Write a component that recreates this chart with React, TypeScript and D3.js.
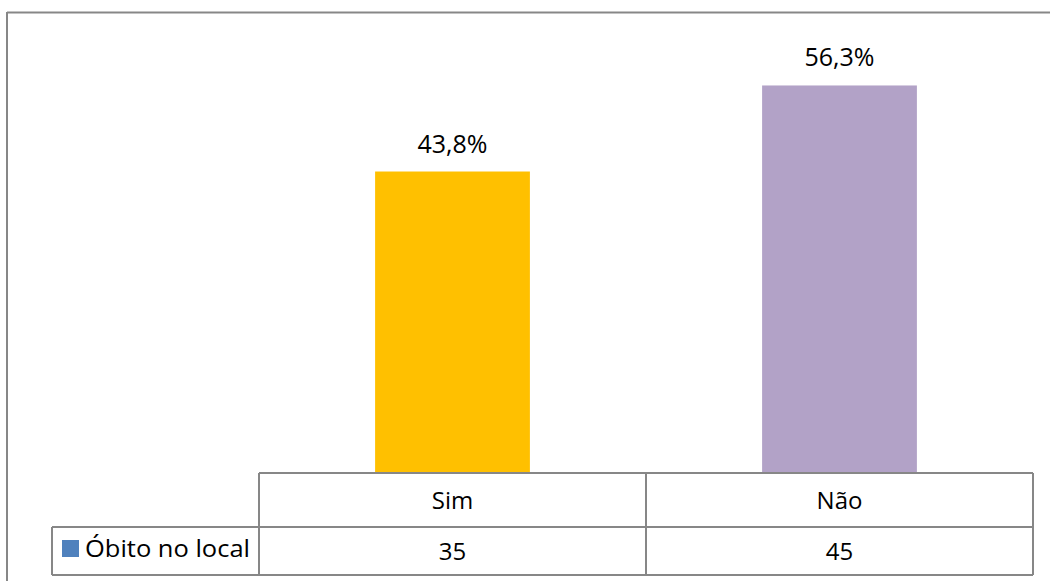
import React from "react";
import * as d3 from "d3";

const categories = ["Sim", "Não"];
const percentValues = [43.8, 56.3];
const percentLabels = ["43,8%", "56,3%"];
const countValues = [35, 45];
const seriesName = "Óbito no local";
const barColors = ["#FFC000", "#B2A2C7"];
const legendColor = "#4F81BD";

const W = 1050;
const H = 581;
const FONT = "'Open Sans', 'Noto Sans', sans-serif";

export default function App() {
  const plotLeft = 259;
  const plotRight = 1033;
  const baseY = 473;
  const rowMid = 527;
  const rowBottom = 575;
  const legendLeft = 52;

  const x = d3.scaleBand<string>().domain(categories).range([plotLeft, plotRight]).paddingInner(0.6).paddingOuter(0.3);
  const cat = d3.scaleBand<string>().domain(categories).range([plotLeft, plotRight]);
  const y = d3.scaleLinear().domain([0, 60]).range([baseY, 60]);

  const grey = "#878787";

  return (
    <svg width={W} height={H} style={{ position: "absolute", left: 0, top: 0 }} fontFamily={FONT}>
      <rect x={0} y={0} width={W} height={H} fill="#fff" />
      {/* outer border */}
      <line x1={7} y1={12.5} x2={W} y2={12.5} stroke={grey} strokeWidth={2} />
      <line x1={7} y1={12} x2={7} y2={H} stroke={grey} strokeWidth={2} />

      {categories.map((c, i) => (
        <g key={c}>
          <rect
            x={x(c)}
            y={y(percentValues[i])}
            width={x.bandwidth()}
            height={baseY - y(percentValues[i])}
            fill={barColors[i]}
          />
          <text
            x={(x(c) as number) + x.bandwidth() / 2}
            y={y(percentValues[i]) - 19}
            textAnchor="middle"
            fontSize={25}
            fill="#000"
          >
            {percentLabels[i]}
          </text>
        </g>
      ))}

      {/* data table */}
      <g stroke={grey} strokeWidth={2} fill="none">
        <line x1={plotLeft} y1={baseY} x2={plotRight} y2={baseY} />
        <line x1={legendLeft} y1={rowMid} x2={plotRight} y2={rowMid} />
        <line x1={legendLeft} y1={rowBottom} x2={plotRight} y2={rowBottom} />
        <line x1={legendLeft} y1={rowMid} x2={legendLeft} y2={rowBottom} />
        {categories.map((c) => (
          <line key={c} x1={cat(c)} y1={baseY} x2={cat(c)} y2={rowBottom} />
        ))}
        <line x1={plotRight} y1={baseY} x2={plotRight} y2={rowBottom} />
      </g>

      {categories.map((c, i) => (
        <g key={"t" + c}>
          <text
            x={(cat(c) as number) + cat.bandwidth() / 2}
            y={(baseY + rowMid) / 2 + 9}
            textAnchor="middle"
            fontSize={24}
            fill="#000"
          >
            {c}
          </text>
          <text
            x={(cat(c) as number) + cat.bandwidth() / 2}
            y={(rowMid + rowBottom) / 2 + 9}
            textAnchor="middle"
            fontSize={24}
            fill="#000"
          >
            {countValues[i]}
          </text>
        </g>
      ))}

      <rect x={62} y={540} width={17} height={17} fill={legendColor} />
      <text x={85} y={557} fontSize={24} fill="#000" textLength={165} lengthAdjust="spacingAndGlyphs">
        {seriesName}
      </text>
    </svg>
  );
}
